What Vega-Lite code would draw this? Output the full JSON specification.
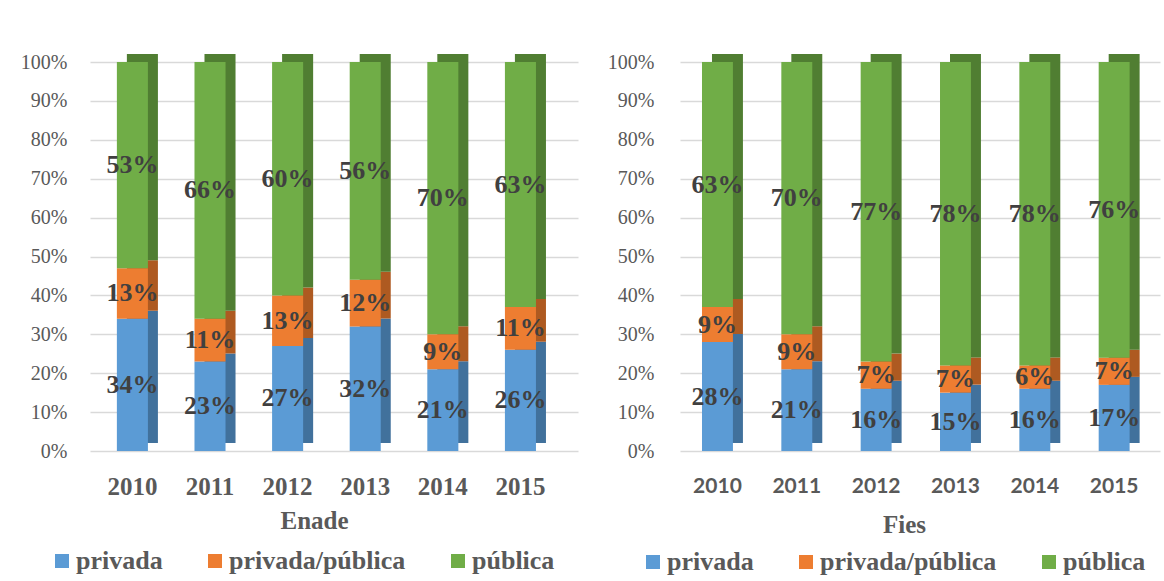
{
  "$schema": "https://vega.github.io/schema/vega-lite/v6.json",
  "padding": {"left": 20, "top": 52, "right": 4, "bottom": 4},
  "background": "white",
  "bounds": "flush",
  "spacing": 102,
  "datasets": {
    "enade": [
      {"year": "2010", "cat": "privada", "value": 0.34},
      {"year": "2010", "cat": "privada/pública", "value": 0.13},
      {"year": "2010", "cat": "pública", "value": 0.53},
      {"year": "2011", "cat": "privada", "value": 0.23},
      {"year": "2011", "cat": "privada/pública", "value": 0.11},
      {"year": "2011", "cat": "pública", "value": 0.66},
      {"year": "2012", "cat": "privada", "value": 0.27},
      {"year": "2012", "cat": "privada/pública", "value": 0.13},
      {"year": "2012", "cat": "pública", "value": 0.60},
      {"year": "2013", "cat": "privada", "value": 0.32},
      {"year": "2013", "cat": "privada/pública", "value": 0.12},
      {"year": "2013", "cat": "pública", "value": 0.56},
      {"year": "2014", "cat": "privada", "value": 0.21},
      {"year": "2014", "cat": "privada/pública", "value": 0.09},
      {"year": "2014", "cat": "pública", "value": 0.70},
      {"year": "2015", "cat": "privada", "value": 0.26},
      {"year": "2015", "cat": "privada/pública", "value": 0.11},
      {"year": "2015", "cat": "pública", "value": 0.63}
    ],
    "fies": [
      {"year": "2010", "cat": "privada", "value": 0.28},
      {"year": "2010", "cat": "privada/pública", "value": 0.09},
      {"year": "2010", "cat": "pública", "value": 0.63},
      {"year": "2011", "cat": "privada", "value": 0.21},
      {"year": "2011", "cat": "privada/pública", "value": 0.09},
      {"year": "2011", "cat": "pública", "value": 0.70},
      {"year": "2012", "cat": "privada", "value": 0.16},
      {"year": "2012", "cat": "privada/pública", "value": 0.07},
      {"year": "2012", "cat": "pública", "value": 0.77},
      {"year": "2013", "cat": "privada", "value": 0.15},
      {"year": "2013", "cat": "privada/pública", "value": 0.07},
      {"year": "2013", "cat": "pública", "value": 0.78},
      {"year": "2014", "cat": "privada", "value": 0.16},
      {"year": "2014", "cat": "privada/pública", "value": 0.06},
      {"year": "2014", "cat": "pública", "value": 0.78},
      {"year": "2015", "cat": "privada", "value": 0.17},
      {"year": "2015", "cat": "privada/pública", "value": 0.07},
      {"year": "2015", "cat": "pública", "value": 0.76}
    ]
  },
  "hconcat": [
    {
      "width": 488,
      "height": 389,
      "data": {"name": "enade"},
      "encoding": {
        "x": {
          "field": "year", "type": "nominal",
          "scale": {"paddingInner": 0.6, "paddingOuter": 0.444, "align": 0.39},
          "axis": {
            "title": "Enade", "labelAngle": 0, "ticks": false, "domain": false,
            "labelFont": "Liberation Serif", "labelFontWeight": "bold", "labelFontSize": 25,
            "labelColor": "#595959", "labelPadding": 23,
            "titleFont": "Liberation Serif", "titleFontWeight": "bold", "titleFontSize": 25,
            "titleColor": "#595959", "titlePadding": 9, "titleX": 224
          }
        },
        "y": {
          "field": "value", "type": "quantitative", "stack": "zero",
          "scale": {"domain": [0, 1]},
          "axis": {
            "title": null, "values": [0, 0.1, 0.2, 0.3, 0.4, 0.5, 0.6, 0.7, 0.8, 0.9, 1],
            "format": ".0%", "ticks": false, "tickSize": 0, "domain": false,
            "labelFont": "Liberation Serif", "labelFontSize": 20, "labelColor": "#595959",
            "labelPadding": 23, "gridColor": "#d9d9d9", "gridWidth": 1.5
          }
        },
        "order": {"field": "cat", "type": "nominal", "sort": "ascending"}
      },
      "layer": [
        {
          "mark": {"type": "bar", "xOffset": 10, "yOffset": -8},
          "encoding": {
            "fill": {
              "field": "cat", "type": "nominal",
              "scale": {"domain": ["pública", "privada/pública", "privada"], "range": ["#507E32", "#AE5A21", "#41719C"]},
              "legend": null
            }
          }
        },
        {
          "mark": {"type": "bar"},
          "encoding": {
            "color": {
              "field": "cat", "type": "nominal",
              "scale": {"domain": ["privada", "privada/pública", "pública"], "range": ["#5B9BD5", "#ED7D31", "#70AD47"]},
              "legend": {
                "title": null, "orient": "none", "direction": "horizontal",
                "legendX": -41, "legendY": 486, "padding": 0,
                "symbolType": "square", "symbolSize": 196, "symbolStrokeWidth": 0,
                "labelFont": "Liberation Serif", "labelFontWeight": "bold", "labelFontSize": 26,
                "labelColor": "#595959", "labelOffset": 1, "columnPadding": 39, "labelLimit": 400
              }
            }
          }
        },
        {
          "mark": {"type": "text", "font": "Liberation Serif", "fontWeight": "bold", "fontSize": 26, "fill": "#404040", "baseline": "middle"},
          "encoding": {
            "detail": {"field": "cat", "type": "nominal"},
            "y": {"field": "value", "type": "quantitative", "stack": "zero", "bandPosition": 0.5},
            "text": {"field": "value", "type": "quantitative", "format": ".0%"}
          }
        }
      ]
    },
    {
      "width": 480,
      "height": 389,
      "data": {"name": "fies"},
      "encoding": {
        "x": {
          "field": "year", "type": "nominal",
          "scale": {"paddingInner": 0.61, "paddingOuter": 0.33, "align": 0.42},
          "axis": {
            "title": "Fies", "labelAngle": 0, "ticks": false, "domain": false,
            "labelFont": "Lato", "labelFontWeight": "bold", "labelFontSize": 21,
            "labelColor": "#595959", "labelPadding": 24,
            "titleFont": "Liberation Serif", "titleFontWeight": "bold", "titleFontSize": 25,
            "titleColor": "#595959", "titlePadding": 16, "titleX": 224
          }
        },
        "y": {
          "field": "value", "type": "quantitative", "stack": "zero",
          "scale": {"domain": [0, 1]},
          "axis": {
            "title": null, "values": [0, 0.1, 0.2, 0.3, 0.4, 0.5, 0.6, 0.7, 0.8, 0.9, 1],
            "format": ".0%", "ticks": false, "tickSize": 0, "domain": false,
            "labelFont": "Liberation Serif", "labelFontSize": 20, "labelColor": "#595959",
            "labelPadding": 26, "gridColor": "#d9d9d9", "gridWidth": 1.5
          }
        },
        "order": {"field": "cat", "type": "nominal", "sort": "ascending"}
      },
      "layer": [
        {
          "mark": {"type": "bar", "xOffset": 10, "yOffset": -8},
          "encoding": {
            "fill": {
              "field": "cat", "type": "nominal",
              "scale": {"domain": ["pública", "privada/pública", "privada"], "range": ["#507E32", "#AE5A21", "#41719C"]},
              "legend": null
            }
          }
        },
        {
          "mark": {"type": "bar"},
          "encoding": {
            "color": {
              "field": "cat", "type": "nominal",
              "scale": {"domain": ["privada", "privada/pública", "pública"], "range": ["#5B9BD5", "#ED7D31", "#70AD47"]},
              "legend": {
                "title": null, "orient": "none", "direction": "horizontal",
                "legendX": -40, "legendY": 487, "padding": 0,
                "symbolType": "square", "symbolSize": 196, "symbolStrokeWidth": 0,
                "labelFont": "Liberation Serif", "labelFontWeight": "bold", "labelFontSize": 26,
                "labelColor": "#595959", "labelOffset": 1, "columnPadding": 39, "labelLimit": 400
              }
            }
          }
        },
        {
          "mark": {"type": "text", "font": "Liberation Serif", "fontWeight": "bold", "fontSize": 26, "fill": "#404040", "baseline": "middle"},
          "encoding": {
            "detail": {"field": "cat", "type": "nominal"},
            "y": {"field": "value", "type": "quantitative", "stack": "zero", "bandPosition": 0.5},
            "text": {"field": "value", "type": "quantitative", "format": ".0%"}
          }
        }
      ]
    }
  ],
  "resolve": {"legend": {"color": "independent"}, "scale": {"color": "independent", "fill": "independent", "x": "independent", "y": "independent"}},
  "config": {
    "view": {"stroke": null}
  }
}
